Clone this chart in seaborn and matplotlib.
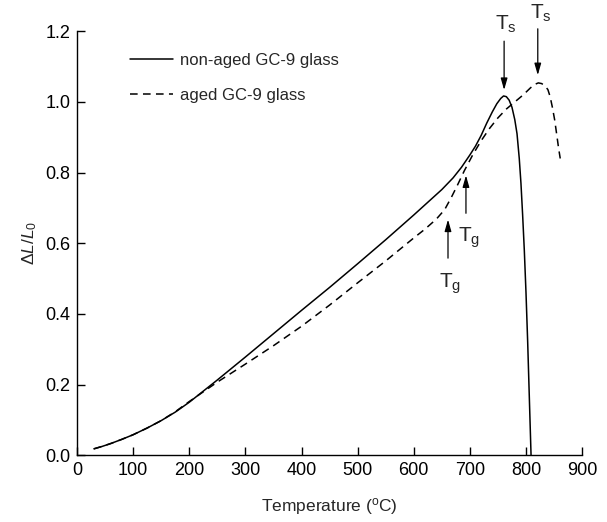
import numpy as np
import pandas as pd
import matplotlib
matplotlib.use("Agg")
import matplotlib.pyplot as plt
import seaborn as sns

# non-aged GC-9 glass (solid)
temp_nonaged = [30, 45, 60, 80, 100, 125, 150, 175, 200, 250, 300, 350, 400, 450, 500,
                550, 600, 625, 650, 670, 685, 700, 710, 720, 730, 740, 748, 755, 760,
                765, 770, 775, 780, 784, 788, 791, 794, 797, 800, 803, 806, 809]
dl_nonaged = [0.018, 0.025, 0.033, 0.045, 0.058, 0.077, 0.098, 0.122, 0.15, 0.213, 0.278,
              0.344, 0.41, 0.475, 0.542, 0.61, 0.68, 0.716, 0.752, 0.785, 0.815, 0.85,
              0.875, 0.905, 0.94, 0.972, 0.995, 1.01, 1.017, 1.015, 1.005, 0.985, 0.95,
              0.91, 0.84, 0.77, 0.68, 0.58, 0.46, 0.32, 0.16, 0.0]

# aged GC-9 glass (dashed)
temp_aged = [30, 45, 60, 80, 100, 125, 150, 175, 200, 250, 300, 350, 400, 450, 500, 550,
             600, 620, 640, 655, 667, 678, 690, 705, 720, 735, 750, 765, 780, 795, 808,
             816, 822, 828, 834, 839, 843, 847, 851, 855, 858, 861]
dl_aged = [0.018, 0.025, 0.033, 0.045, 0.058, 0.077, 0.098, 0.123, 0.152, 0.207, 0.258,
           0.31, 0.365, 0.425, 0.488, 0.55, 0.615, 0.64, 0.668, 0.695, 0.73, 0.765, 0.805,
           0.85, 0.89, 0.925, 0.955, 0.98, 1.0, 1.02, 1.04, 1.05, 1.054, 1.052, 1.045,
           1.035, 1.015, 0.985, 0.95, 0.905, 0.87, 0.84]

series_labels = ["non-aged GC-9 glass", "aged GC-9 glass"]

sns.set_style("ticks")
plt.rcParams["font.family"] = ["Liberation Sans", "DejaVu Sans"]
plt.rcParams["mathtext.fontset"] = "custom"
plt.rcParams["mathtext.rm"] = "Liberation Sans"
plt.rcParams["mathtext.it"] = "Liberation Sans:italic"

fig = plt.figure(figsize=(6.07, 5.22), dpi=100)
ax = fig.add_axes([0.127, 0.128, 0.832, 0.812])

sns.lineplot(x=temp_nonaged, y=dl_nonaged, ax=ax, color="black", lw=1.1,
             label=series_labels[0], sort=False)
sns.lineplot(x=temp_aged, y=dl_aged, ax=ax, color="black", lw=1.1,
             label=series_labels[1], sort=False)
ax.lines[1].set_dashes([5, 3.5])

ax.set_xlim(0, 900)
ax.set_ylim(0, 1.2)
ax.set_xticks(np.arange(0, 901, 100))
ax.set_yticks(np.arange(0, 1.21, 0.2))
ax.yaxis.set_major_formatter(matplotlib.ticker.FormatStrFormatter("%.1f"))
ax.tick_params(direction="in", length=6, width=1, labelsize=13, colors="black", pad=5)
for s in ["top", "right"]:
    ax.spines[s].set_visible(False)
for s in ["left", "bottom"]:
    ax.spines[s].set_linewidth(1)
    ax.spines[s].set_color("black")

ax.set_xlabel(r"Temperature ($^\mathrm{o}$C)", fontsize=12.5, labelpad=12)
ax.set_ylabel(r"$\Delta \mathit{L/L}_\mathit{0}$", fontsize=12.5, labelpad=4)

leg = ax.legend(loc="upper left", bbox_to_anchor=(0.075, 0.985), frameon=False,
                fontsize=12, handlelength=2.6, handletextpad=0.4, labelspacing=1.2)
leg.get_lines()[1].set_dashes([5, 3.5])

arrow = dict(arrowstyle="-|>,head_length=0.7,head_width=0.2", color="black", lw=0.9)
# T_s arrows
ax.annotate("", xy=(761, 1.026), xytext=(761, 1.18), arrowprops=arrow, annotation_clip=False)
ax.text(764, 1.19, r"T$_\mathrm{s}$", fontsize=15, ha="center", va="bottom", clip_on=False)
ax.annotate("", xy=(821, 1.068), xytext=(821, 1.215), arrowprops=arrow, annotation_clip=False)
ax.text(826, 1.222, r"T$_\mathrm{s}$", fontsize=15, ha="center", va="bottom", clip_on=False)
# T_g arrows
ax.annotate("", xy=(661, 0.675), xytext=(661, 0.55), arrowprops=arrow)
ax.text(664, 0.52, r"T$_\mathrm{g}$", fontsize=15, ha="center", va="top")
ax.annotate("", xy=(693, 0.80), xytext=(693, 0.677), arrowprops=arrow)
ax.text(699, 0.65, r"T$_\mathrm{g}$", fontsize=15, ha="center", va="top")

fig.savefig("out.png", dpi=100)
